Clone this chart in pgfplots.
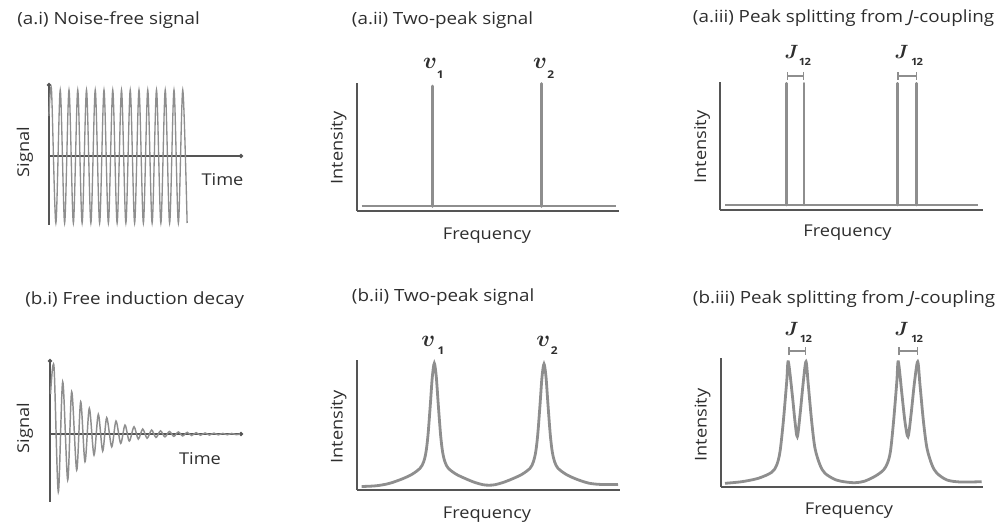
\documentclass[border=0pt]{standalone}
\usepackage{pgfplots}
\pgfplotsset{compat=1.18}
\usepackage{fontspec}
\setmainfont{Open Sans}[FakeStretch=1.12]
\usepackage{bm}
\usetikzlibrary{arrows.meta}
\definecolor{axc}{HTML}{555555}
\definecolor{sig}{HTML}{8E8E8E}
\definecolor{txt}{HTML}{2E2E2E}
\pgfplotsset{
  panel/.style={scale only axis, clip=false, xtick=\empty, ytick=\empty,
    anchor=south west},
  spec/.style={panel, axis lines=left, axis line style={-, axc, line width=1.5pt}},
  tim/.style={panel, axis lines=middle, axis line style={-{Circle[length=3pt]}, axc, line width=1.3pt}},
}
\newcommand{\ttl}{\fontsize{12.6}{14}\selectfont}
\newcommand{\lbl}{\fontsize{12.2}{14}\selectfont}
\begin{document}
\begin{tikzpicture}
\useasboundingbox (0,0) rectangle (754.5pt,-395.25pt);
% ---------- (a.i)
\begin{axis}[tim, at={(36.75pt,-168.75pt)}, width=145.5pt, height=106.5pt,
  xmin=0, xmax=194, ymin=-69, ymax=73]
\addplot[sig, line width=1.0pt, smooth, no marks] coordinates {
(0,40) (2.5,66) (6.875,-67) (11.25,66) (15.625,-67) (20,66) (24.375,-67)
(28.75,66) (33.125,-67) (37.5,66) (41.875,-67) (46.25,66) (50.625,-67)
(55,66) (59.375,-67) (63.75,66) (68.125,-67) (72.5,66) (76.875,-67)
(81.25,66) (85.625,-67) (90,66) (94.375,-67) (98.75,66) (103.125,-67)
(107.5,66) (111.875,-67) (116.25,66) (120.625,-67) (125,66) (129.375,-67)
(133.75,66) (138.125,-67)};
\end{axis}
% ---------- (b.i)
\begin{axis}[tim, at={(37.5pt,-376.3pt)}, width=144.75pt, height=107pt,
  xmin=0, xmax=193, ymin=-67.7, ymax=75]
\addplot[sig, line width=1.1pt, smooth, no marks] coordinates {
(0.5,40) (4,67.3) (8.3,-57.7) (12.7,52.3) (17.7,-46) (21.7,42.3) (26.7,-36)
(30.7,32.3) (35,-27.7) (39.3,25.7) (44,-21) (48.3,19.7) (52.7,-17)
(56.7,16.3) (61.7,-12.7) (66,13) (70.7,-9.3) (75,9) (79.3,-7) (84,7.3)
(88.3,-5) (92.7,5) (97.1,-4.2) (101.6,4) (106,-3.4) (110.5,3.2)
(114.9,-2.8) (119.4,2.6) (123.8,-2.3) (128.3,2.1) (132.7,-1.9) (137.2,1.7)
(141.6,-1.5) (146.1,1.4) (150.5,-1.2) (155,1.1) (159.4,-1) (163.9,0.9)
(168.3,-0.8) (172.8,0.7) (177.2,-0.7) (181.7,0.6) (186.1,-0.6) (190,0)};
\end{axis}
% ---------- (a.ii)
\begin{axis}[spec, at={(267.5pt,-158.25pt)}, width=196.5pt, height=96pt,
  xmin=0, xmax=262, ymin=0, ymax=128]
\addplot[sig, line width=1.5pt, no marks] coordinates {(5,4.5) (259.3,4.5)};
\addplot[sig, line width=1.9pt, line cap=round, no marks] coordinates {(76,4.5) (76,125)};
\addplot[sig, line width=1.9pt, line cap=round, no marks] coordinates {(184.7,4.5) (184.7,127.5)};
\end{axis}
% ---------- (a.iii)
\begin{axis}[spec, at={(540pt,-157.5pt)}, width=197.25pt, height=96pt,
  xmin=0, xmax=263, ymin=0, ymax=128]
\addplot[sig, line width=1.5pt, no marks] coordinates {(5,5) (258,5)};
\addplot[sig, line width=1.9pt, line cap=round, no marks] coordinates {(66.7,5) (66.7,126.7)};
\addplot[sig, line width=1.9pt, line cap=round, no marks] coordinates {(84,5) (84,126.7)};
\addplot[sig, line width=1.9pt, line cap=round, no marks] coordinates {(177.3,5) (177.3,126.7)};
\addplot[sig, line width=1.9pt, line cap=round, no marks] coordinates {(196.7,5) (196.7,126.7)};
\draw[sig, line width=0.9pt, {Bar[width=6pt]}-{Bar[width=6pt]}] (axis cs:66.7,134) -- (axis cs:84,134);
\draw[sig, line width=0.9pt, {Bar[width=6pt]}-{Bar[width=6pt]}] (axis cs:177.3,134) -- (axis cs:196.7,134);
\end{axis}
% ---------- (b.ii)
\begin{axis}[spec, at={(267.75pt,-367.5pt)}, width=197.25pt, height=97.5pt,
  xmin=0, xmax=263, ymin=0, ymax=130]
\addplot[sig, line width=2.1pt, smooth, tension=0.5, no marks] coordinates {
(4.7,3.5) (19,4.2) (32,6.5) (45,11) (55,15.7) (63,21.7) (66.6,28) (69,38)
(71,55) (73.3,85) (75.3,113) (77.3,126.7) (79.3,113) (81.3,85) (83.6,55)
(85.6,38) (88,28) (91.3,21.7) (99.3,15.7) (109.3,11) (118,7.5) (126,5.3)
(132,4.8) (138,5.3) (146,7.5) (155,11) (165,15.7) (173,21.7) (176.3,28)
(178.7,38) (180.7,55) (183,85) (185,113) (187,126) (189,113) (191,85)
(193.3,55) (195.3,38) (197.7,28) (201,21.7) (209,15.7) (219,11) (232,6.8)
(245,5.5) (261,5.5)};
\end{axis}
% ---------- (b.iii)
\begin{axis}[spec, at={(540.375pt,-365.25pt)}, width=196.875pt, height=96.75pt,
  xmin=0, xmax=262.5, ymin=0, ymax=129]
\addplot[sig, line width=2.1pt, smooth, tension=0.5, no marks] coordinates {
(4.5,3.7) (21.2,5.3) (37.8,8.7) (51.2,14.7) (56.2,22) (59.5,35.3) (62.8,65.3)
(66.2,105.3) (67.8,125.3) (71.8,92) (74.5,65.3) (76.8,50.3) (79.5,72)
(82.8,105.3) (85.5,125.3) (87.8,102) (91.2,65.3) (94.5,38.7) (99.5,22)
(104.5,13.7) (114.5,7.5) (124,5.2) (134.5,4.3) (144,5.8) (155,11) (163,17)
(167,24) (170,36) (173,65) (176.3,105) (177.8,125.3) (181.5,92) (184.5,65)
(187.5,50.3) (190.5,72) (194,105) (197.2,125.3) (199.5,102) (203,65)
(206.5,38.7) (211.5,22) (216.5,13.7) (226.5,7) (240,5) (261.2,5.3)};
\draw[sig, line width=0.9pt, {Bar[width=6pt]}-{Bar[width=6pt]}] (axis cs:67.8,136) -- (axis cs:85.5,136);
\draw[sig, line width=0.9pt, {Bar[width=6pt]}-{Bar[width=6pt]}] (axis cs:177.8,136) -- (axis cs:197.2,136);
\end{axis}
% ---------- texts (coordinates in reference pixels)
\begin{scope}[x=0.75pt, y=-0.75pt, every node/.style={text=txt, inner sep=0pt}]
\node[anchor=base west] at (17,25) {\ttl (a.i) Noise-free signal};
\node[anchor=base west] at (351.7,25) {\ttl (a.ii) Two-peak signal};
\node[anchor=base west] at (692.7,22.7) {\ttl (a.iii) Peak splitting from \textit{J}-coupling};
\node[anchor=base west] at (25,305) {\ttl (b.i) Free induction decay};
\node[anchor=base west] at (351.7,301.7) {\ttl (b.ii) Two-peak signal};
\node[anchor=base west] at (692.7,303.3) {\ttl (b.iii) Peak splitting from \textit{J}-coupling};
% axis labels
\node[rotate=90] at (25,152) {\lbl Signal};
\node[rotate=90] at (25,428) {\lbl Signal};
\node at (222.5,180) {\lbl Time};
\node at (200,458.3) {\lbl Time};
\node[rotate=90] at (338.5,148) {\lbl Intensity};
\node[rotate=90] at (702,147) {\lbl Intensity};
\node[rotate=90] at (338.5,427) {\lbl Intensity};
\node[rotate=90] at (702.5,425) {\lbl Intensity};
\node at (487,236) {\lbl Frequency};
\node at (847.5,233) {\lbl Frequency};
\node at (487,515) {\lbl Frequency};
\node at (849,511) {\lbl Frequency};
% peak labels
\node at (430,63.3) {\fontsize{17}{18}\selectfont$\bm{v}$};
\node at (440,75) {\fontsize{8}{9}\selectfont$\mathbf{1}$};
\node at (540,63.3) {\fontsize{17}{18}\selectfont$\bm{v}$};
\node at (550.5,74.5) {\fontsize{8}{9}\selectfont$\mathbf{2}$};
\node at (428.3,341.7) {\fontsize{17}{18}\selectfont$\bm{v}$};
\node at (440.7,351) {\fontsize{8}{9}\selectfont$\mathbf{1}$};
\node at (543.3,341.7) {\fontsize{17}{18}\selectfont$\bm{v}$};
\node at (554,351) {\fontsize{8}{9}\selectfont$\mathbf{2}$};
\node at (791.7,51.7) {\fontsize{15.5}{16}\selectfont$\bm{J}$};
\node at (804.5,61.7) {\fontsize{7.5}{8}\selectfont$\mathbf{12}$};
\node at (901.7,51.7) {\fontsize{15.5}{16}\selectfont$\bm{J}$};
\node at (916.7,61.7) {\fontsize{7.5}{8}\selectfont$\mathbf{12}$};
\node at (791.7,329.3) {\fontsize{15.5}{16}\selectfont$\bm{J}$};
\node at (805.5,339.3) {\fontsize{7.5}{8}\selectfont$\mathbf{12}$};
\node at (901.7,329.3) {\fontsize{15.5}{16}\selectfont$\bm{J}$};
\node at (916.7,339.3) {\fontsize{7.5}{8}\selectfont$\mathbf{12}$};
\end{scope}
\end{tikzpicture}
\end{document}
